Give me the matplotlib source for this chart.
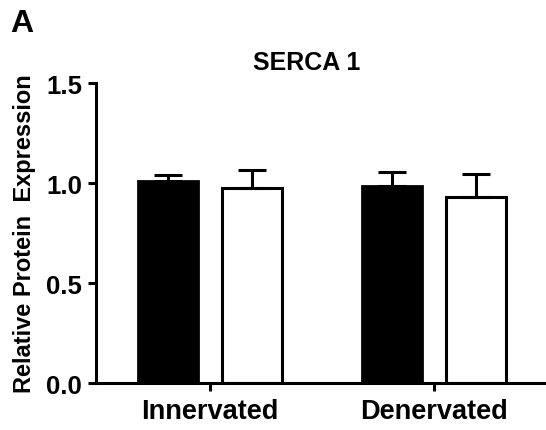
import numpy as np
import matplotlib.pyplot as plt

plt.rcParams['font.family'] = ['Liberation Sans', 'DejaVu Sans']
plt.rcParams['font.weight'] = 'bold'

# Datos
groups = ['Innervated', 'Denervated']
black_means = [1.008, 0.983]
black_err = [0.032, 0.070]
white_means = [0.975, 0.93]
white_err = [0.092, 0.115]

fig = plt.figure(figsize=(5.46, 4.31), dpi=100)
ax = fig.add_axes([0.176, 0.109, 0.822, 0.696])

x = np.arange(len(groups))
off = 0.1875
w = 0.268

ax.bar(x - off, black_means, w, color='black', edgecolor='black', linewidth=2)
ax.bar(x + off, white_means, w, color='white', edgecolor='black', linewidth=2.2)
ax.errorbar(x - off, black_means, yerr=[np.zeros(2), black_err], fmt='none',
            ecolor='black', elinewidth=2.2, capsize=10, capthick=2.2)
ax.errorbar(x + off, white_means, yerr=[np.zeros(2), white_err], fmt='none',
            ecolor='black', elinewidth=2.2, capsize=10, capthick=2.2)

ax.set_xlim(-0.51, 1.496)
ax.set_ylim(0, 1.5)
ax.set_yticks([0, 0.5, 1.0, 1.5])
ax.set_yticklabels(['0.0', '0.5', '1.0', '1.5'])
ax.set_xticks(x)
ax.set_xticklabels(groups)

for s in ['top', 'right']:
    ax.spines[s].set_visible(False)
for s in ['left', 'bottom']:
    ax.spines[s].set_linewidth(2.2)
ax.tick_params(axis='y', width=2.2, length=6, labelsize=18.5, pad=4)
ax.tick_params(axis='x', width=2.2, length=6, labelsize=19.5, pad=5)
for lab in ax.get_xticklabels() + ax.get_yticklabels():
    lab.set_fontweight('bold')

ax.set_ylabel('Relative Protein  Expression', fontsize=17, fontweight='bold', labelpad=7)
ax.set_title('SERCA 1', fontsize=18, fontweight='bold', pad=10, x=0.47)
fig.text(0.018, 0.925, 'A', fontsize=23, fontweight='bold')

fig.savefig('out.png', dpi=100)
